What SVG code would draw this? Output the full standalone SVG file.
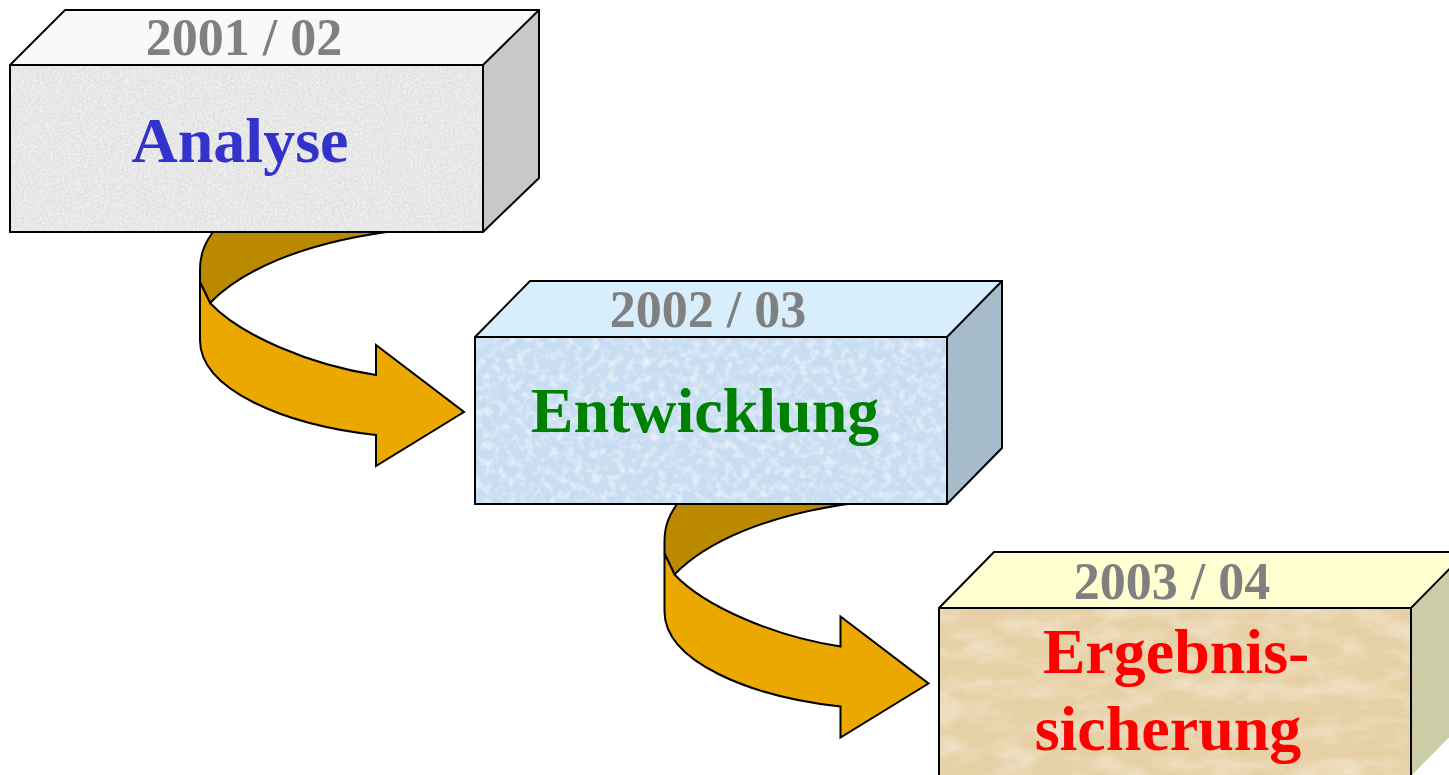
<svg xmlns="http://www.w3.org/2000/svg" width="1449" height="775" viewBox="0 0 1449 775">
<style>
.edge{fill:none;stroke:#000;stroke-width:2;stroke-linejoin:miter}
.yr{font-family:"Liberation Serif","Times New Roman",serif;font-weight:bold;font-size:52px;fill:#808080;text-anchor:middle}
.lbl{font-family:"Liberation Serif","Times New Roman",serif;font-weight:bold;font-size:64px;text-anchor:middle}
.arF{fill:#EAA800;stroke:#000;stroke-width:2;stroke-linejoin:miter}
.arD{fill:#BA8900;stroke:#000;stroke-width:2}
</style>
<defs>
<filter id="texGray" x="0" y="0" width="1" height="1">
<feTurbulence type="fractalNoise" baseFrequency="0.45" numOctaves="3" seed="4" result="n"/>
<feColorMatrix in="n" type="matrix" values="0 0 0 0 0.97  0 0 0 0 0.97  0 0 0 0 0.97  1.4 0 0 0 -0.5" result="sp"/>
<feComposite in="sp" in2="SourceGraphic" operator="in" result="s"/>
<feMerge><feMergeNode in="SourceGraphic"/><feMergeNode in="s"/></feMerge>
</filter>
<filter id="texBlue" x="0" y="0" width="1" height="1">
<feTurbulence type="fractalNoise" baseFrequency="0.12" numOctaves="4" seed="7" result="n"/>
<feColorMatrix in="n" type="matrix" values="0 0 0 0 1  0 0 0 0 1  0 0 0 0 1  1.4 0 0 0 -0.62" result="sp"/>
<feComposite in="sp" in2="SourceGraphic" operator="in" result="s"/>
<feMerge><feMergeNode in="SourceGraphic"/><feMergeNode in="s"/></feMerge>
</filter>
<filter id="texSand" x="0" y="0" width="1" height="1">
<feTurbulence type="fractalNoise" baseFrequency="0.025 0.05" numOctaves="4" seed="11" result="n"/>
<feColorMatrix in="n" type="matrix" values="0 0 0 0 0.97  0 0 0 0 0.91  0 0 0 0 0.78  1.0 0 0 0 -0.4" result="sp"/>
<feComposite in="sp" in2="SourceGraphic" operator="in" result="s"/>
<feMerge><feMergeNode in="SourceGraphic"/><feMergeNode in="s"/></feMerge>
</filter>
<g id="curveArrow">
<path class="arD" d="M216,228 C204,243 200,255 200,270 L200,282 L210,303 C240,272 300,242 402,230 Z"/>
<path class="arF" d="M200,282 L210,303 C240,335 310,365 376,375 L376,345 L464,412 L376,466 L376,435 C285,425 200,390 200,340 Z"/>
</g>
</defs>
<g id="connectors">
<use href="#curveArrow"/>
<use href="#curveArrow" transform="translate(464.5,271.5)"/>
</g>
<g id="node-analyse">
<polygon points="10,65 65,10 539,10 483,65" fill="#F9F9F9"/>
<polygon points="483,65 539,10 539,178 483,232" fill="#C8C8C8"/>
<rect x="10" y="65" width="473" height="167" fill="#E2E2E2" filter="url(#texGray)"/>
<path class="edge" d="M10,65 L65,10 L539,10 L539,178 L483,232 L10,232 Z M10,65 L483,65 L539,10 M483,65 L483,232"/>
<text class="yr" x="244" y="55">2001 / 02</text>
<text class="lbl" x="240" y="162" fill="#3333CC">Analyse</text>
</g>
<g id="node-entwicklung">
<polygon points="475,337 530,281 1002,281 947,337" fill="#D8EEFC"/>
<polygon points="947,337 1002,281 1002,448 947,504" fill="#A6BCCB"/>
<rect x="475" y="337" width="472" height="167" fill="#C8DDF2" filter="url(#texBlue)"/>
<path class="edge" d="M475,337 L530,281 L1002,281 L1002,448 L947,504 L475,504 Z M475,337 L947,337 L1002,281 M947,337 L947,504"/>
<text class="yr" x="708" y="327">2002 / 03</text>
<text class="lbl" x="705" y="432" fill="#008000">Entwicklung</text>
</g>
<g id="node-ergebnissicherung">
<polygon points="939,608 994,552 1466,552 1411,608" fill="#FFFFD2"/>
<polygon points="1411,608 1466,552 1466,720 1411,776" fill="#CCCCA6"/>
<rect x="939" y="608" width="472" height="180" fill="#E6D0A6" filter="url(#texSand)"/>
<path class="edge" d="M939,790 L939,608 L994,552 L1466,552 M939,608 L1411,608 L1466,552 M1411,608 L1411,790"/>
<text class="yr" x="1172" y="599">2003 / 04</text>
<text class="lbl" x="1176" y="673" fill="#FF0000">Ergebnis-</text>
<text class="lbl" x="1168" y="750" fill="#FF0000">sicherung</text>
</g>
</svg>
